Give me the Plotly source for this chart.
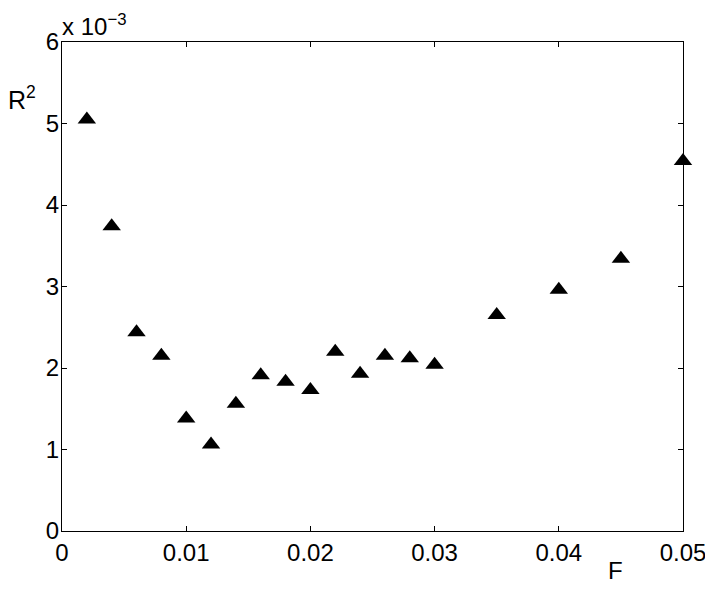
import plotly.graph_objects as go

# F values and R^2 (in units of 1e-3)
f_vals = [0.002, 0.004, 0.006, 0.008, 0.010, 0.012, 0.014, 0.016, 0.018, 0.020,
          0.022, 0.024, 0.026, 0.028, 0.030, 0.035, 0.040, 0.045, 0.050]
r2_vals = [5.05, 3.74, 2.44, 2.15, 1.38, 1.06, 1.56, 1.91, 1.83, 1.73,
           2.20, 1.93, 2.15, 2.12, 2.04, 2.65, 2.96, 3.34, 4.54]

x_ticks = [0, 0.01, 0.02, 0.03, 0.04, 0.05]
x_labels = ["0", "0.01", "0.02", "0.03", "0.04", "0.05"]
y_ticks = [0, 1, 2, 3, 4, 5, 6]

fig = go.Figure()
fig.add_trace(go.Scatter(x=f_vals, y=r2_vals, mode="markers", cliponaxis=False,
                         marker=dict(symbol="triangle-up", size=16, color="black"),
                         showlegend=False))

axis_common = dict(showline=True, linecolor="black", linewidth=1, mirror="ticks",
                   ticks="inside", ticklen=5, tickcolor="black", showgrid=False,
                   zeroline=False, automargin=False,
                   tickfont=dict(size=24, color="black"))

fig.update_xaxes(range=[0, 0.05], tickvals=x_ticks, ticktext=x_labels, **axis_common)
fig.update_yaxes(range=[0, 6], tickvals=y_ticks, ticklabelstandoff=-3, **axis_common)

# the page body adds an 8px margin, so the figure is 8px smaller each way
fig.update_layout(
    width=705, height=581,
    margin=dict(l=54, r=30, t=34, b=58),
    plot_bgcolor="white", paper_bgcolor="white",
    font=dict(family="Liberation Sans, Arial, sans-serif", color="black"),
    annotations=[
        dict(text="x 10<sup>\u22123</sup>", x=0, y=1, xref="paper", yref="paper",
             xanchor="left", yanchor="bottom", showarrow=False, font=dict(size=24),
             xshift=-2, yshift=0),
        dict(text="R<sup>2</sup>", x=22, y=98, xref="paper", yref="paper",
             showarrow=False, font=dict(size=25)),
        dict(text="F", x=615, y=570, xref="paper", yref="paper",
             showarrow=False, font=dict(size=24)),
    ],
)

# place the R^2 and F labels from window pixels, relative to the plot area
plot_w = 683 - 62
plot_h = 531 - 42
for ann in fig.layout.annotations[1:]:
    px_x, px_y = ann.x, ann.y
    ann.x = (px_x - 62) / plot_w
    ann.y = (531 - px_y) / plot_h
    ann.xanchor = "center"
    ann.yanchor = "middle"

fig.write_html("out.html")
